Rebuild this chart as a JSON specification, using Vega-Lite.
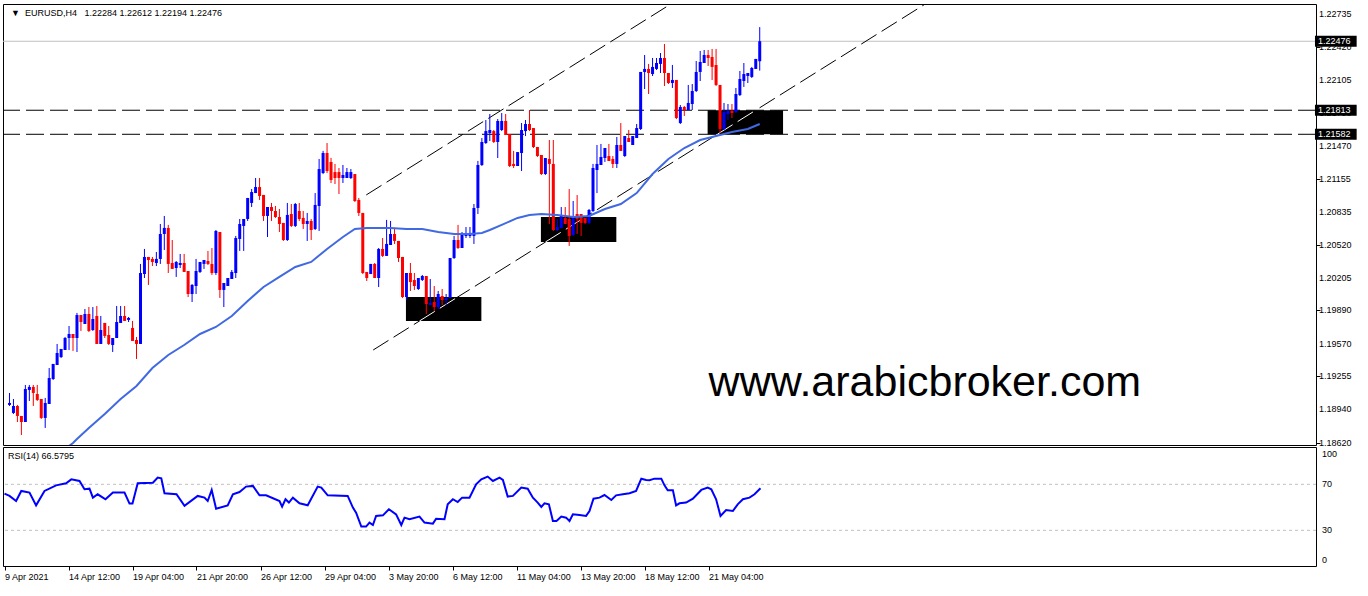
{
  "$schema": "https://vega.github.io/schema/vega-lite/v6.json",
  "background": "white",
  "padding": {"left": 0, "top": 3, "right": 0, "bottom": 0},
  "spacing": 2,
  "bounds": "flush",
  "config": {
    "view": {"stroke": "#000000", "strokeWidth": 1},
    "axis": {"labelFont": "Liberation Sans", "labelFontSize": 9, "labelColor": "#000000", "tickColor": "#000000", "domain": false, "grid": false, "labelOverlap": false},
    "text": {"font": "Liberation Sans"}
  },
  "datasets": {
    "bars": [
      {"i":0,"o":1.18981,"h":1.19096,"l":1.18971,"c":1.19000},
      {"i":1,"o":1.18904,"h":1.19038,"l":1.18894,"c":1.18971},
      {"i":2,"o":1.18971,"h":1.18981,"l":1.18817,"c":1.18875},
      {"i":3,"o":1.18875,"h":1.18875,"l":1.18692,"c":1.18817},
      {"i":4,"o":1.18817,"h":1.19173,"l":1.18817,"c":1.19134},
      {"i":5,"o":1.19125,"h":1.19173,"l":1.19019,"c":1.19154},
      {"i":6,"o":1.19154,"h":1.19173,"l":1.18971,"c":1.19096},
      {"i":7,"o":1.19086,"h":1.19173,"l":1.19019,"c":1.19029},
      {"i":8,"o":1.19038,"h":1.19038,"l":1.18846,"c":1.18856},
      {"i":9,"o":1.18856,"h":1.19048,"l":1.18760,"c":1.19000},
      {"i":10,"o":1.18990,"h":1.19336,"l":1.18990,"c":1.19240},
      {"i":11,"o":1.19230,"h":1.19375,"l":1.19221,"c":1.19375},
      {"i":12,"o":1.19365,"h":1.19567,"l":1.19365,"c":1.19480},
      {"i":13,"o":1.19441,"h":1.19519,"l":1.19432,"c":1.19519},
      {"i":14,"o":1.19509,"h":1.19634,"l":1.19509,"c":1.19624},
      {"i":15,"o":1.19624,"h":1.19740,"l":1.19509,"c":1.19663},
      {"i":16,"o":1.19663,"h":1.19663,"l":1.19500,"c":1.19624},
      {"i":17,"o":1.19624,"h":1.19865,"l":1.19490,"c":1.19845},
      {"i":18,"o":1.19845,"h":1.19845,"l":1.19692,"c":1.19778},
      {"i":19,"o":1.19759,"h":1.19903,"l":1.19759,"c":1.19855},
      {"i":20,"o":1.19855,"h":1.19922,"l":1.19682,"c":1.19692},
      {"i":21,"o":1.19701,"h":1.19922,"l":1.19692,"c":1.19807},
      {"i":22,"o":1.19836,"h":1.19932,"l":1.19567,"c":1.19567},
      {"i":23,"o":1.19567,"h":1.19836,"l":1.19567,"c":1.19701},
      {"i":24,"o":1.19769,"h":1.19769,"l":1.19624,"c":1.19644},
      {"i":25,"o":1.19653,"h":1.19740,"l":1.19557,"c":1.19567},
      {"i":26,"o":1.19557,"h":1.19624,"l":1.19490,"c":1.19624},
      {"i":27,"o":1.19624,"h":1.19932,"l":1.19624,"c":1.19778},
      {"i":28,"o":1.19769,"h":1.19932,"l":1.19769,"c":1.19836},
      {"i":29,"o":1.19836,"h":1.19932,"l":1.19788,"c":1.19788},
      {"i":30,"o":1.19798,"h":1.19826,"l":1.19778,"c":1.19817},
      {"i":31,"o":1.19721,"h":1.19788,"l":1.19596,"c":1.19596},
      {"i":32,"o":1.19605,"h":1.19634,"l":1.19423,"c":1.19567},
      {"i":33,"o":1.19567,"h":1.20336,"l":1.19567,"c":1.20249},
      {"i":34,"o":1.20239,"h":1.20480,"l":1.20201,"c":1.20403},
      {"i":35,"o":1.20403,"h":1.20403,"l":1.20134,"c":1.20374},
      {"i":36,"o":1.20384,"h":1.20403,"l":1.20316,"c":1.20355},
      {"i":37,"o":1.20345,"h":1.20451,"l":1.20316,"c":1.20384},
      {"i":38,"o":1.20384,"h":1.20720,"l":1.20336,"c":1.20624},
      {"i":39,"o":1.20624,"h":1.20797,"l":1.20470,"c":1.20682},
      {"i":40,"o":1.20682,"h":1.20711,"l":1.20249,"c":1.20336},
      {"i":41,"o":1.20345,"h":1.20566,"l":1.20288,"c":1.20288},
      {"i":42,"o":1.20297,"h":1.20364,"l":1.20211,"c":1.20355},
      {"i":43,"o":1.20326,"h":1.20432,"l":1.20297,"c":1.20345},
      {"i":44,"o":1.20345,"h":1.20432,"l":1.20259,"c":1.20259},
      {"i":45,"o":1.20268,"h":1.20268,"l":1.20018,"c":1.20047},
      {"i":46,"o":1.20047,"h":1.20143,"l":1.19970,"c":1.20134},
      {"i":47,"o":1.20124,"h":1.20384,"l":1.20047,"c":1.20268},
      {"i":48,"o":1.20259,"h":1.20355,"l":1.20249,"c":1.20355},
      {"i":49,"o":1.20336,"h":1.20374,"l":1.20288,"c":1.20374},
      {"i":50,"o":1.20364,"h":1.20461,"l":1.20326,"c":1.20336},
      {"i":51,"o":1.20336,"h":1.20489,"l":1.20230,"c":1.20249},
      {"i":52,"o":1.20249,"h":1.20662,"l":1.20230,"c":1.20653},
      {"i":53,"o":1.20643,"h":1.20643,"l":1.20009,"c":1.20086},
      {"i":54,"o":1.20086,"h":1.20153,"l":1.19922,"c":1.20153},
      {"i":55,"o":1.20124,"h":1.20201,"l":1.20124,"c":1.20201},
      {"i":56,"o":1.20191,"h":1.20278,"l":1.20191,"c":1.20259},
      {"i":57,"o":1.20249,"h":1.20605,"l":1.20201,"c":1.20585},
      {"i":58,"o":1.20576,"h":1.20768,"l":1.20461,"c":1.20720},
      {"i":59,"o":1.20701,"h":1.20768,"l":1.20461,"c":1.20768},
      {"i":60,"o":1.20768,"h":1.20970,"l":1.20749,"c":1.20970},
      {"i":61,"o":1.20922,"h":1.21056,"l":1.20883,"c":1.21027},
      {"i":62,"o":1.21017,"h":1.21162,"l":1.21017,"c":1.21075},
      {"i":63,"o":1.21075,"h":1.21162,"l":1.20951,"c":1.20989},
      {"i":64,"o":1.20999,"h":1.20999,"l":1.20749,"c":1.20797},
      {"i":65,"o":1.20797,"h":1.20883,"l":1.20595,"c":1.20883},
      {"i":66,"o":1.20883,"h":1.20922,"l":1.20749,"c":1.20845},
      {"i":67,"o":1.20845,"h":1.20893,"l":1.20778,"c":1.20787},
      {"i":68,"o":1.20787,"h":1.20864,"l":1.20643,"c":1.20720},
      {"i":69,"o":1.20730,"h":1.20730,"l":1.20557,"c":1.20566},
      {"i":70,"o":1.20566,"h":1.20922,"l":1.20557,"c":1.20807},
      {"i":71,"o":1.20816,"h":1.20912,"l":1.20691,"c":1.20701},
      {"i":72,"o":1.20701,"h":1.20922,"l":1.20691,"c":1.20912},
      {"i":73,"o":1.20845,"h":1.20922,"l":1.20749,"c":1.20768},
      {"i":74,"o":1.20778,"h":1.20845,"l":1.20672,"c":1.20720},
      {"i":75,"o":1.20720,"h":1.20826,"l":1.20557,"c":1.20749},
      {"i":76,"o":1.20749,"h":1.20768,"l":1.20566,"c":1.20662},
      {"i":77,"o":1.20672,"h":1.21017,"l":1.20662,"c":1.20903},
      {"i":78,"o":1.20893,"h":1.21345,"l":1.20653,"c":1.21248},
      {"i":79,"o":1.21210,"h":1.21422,"l":1.21200,"c":1.21402},
      {"i":80,"o":1.21402,"h":1.21498,"l":1.21210,"c":1.21229},
      {"i":81,"o":1.21316,"h":1.21355,"l":1.21114,"c":1.21143},
      {"i":82,"o":1.21219,"h":1.21297,"l":1.21104,"c":1.21162},
      {"i":83,"o":1.21219,"h":1.21258,"l":1.21008,"c":1.21162},
      {"i":84,"o":1.21162,"h":1.21287,"l":1.21114,"c":1.21191},
      {"i":85,"o":1.21162,"h":1.21258,"l":1.21162,"c":1.21219},
      {"i":86,"o":1.21162,"h":1.21248,"l":1.21152,"c":1.21219},
      {"i":87,"o":1.21200,"h":1.21200,"l":1.20932,"c":1.20941},
      {"i":88,"o":1.20951,"h":1.20970,"l":1.20797,"c":1.20826},
      {"i":89,"o":1.20826,"h":1.20826,"l":1.20239,"c":1.20249},
      {"i":90,"o":1.20259,"h":1.20259,"l":1.20172,"c":1.20201},
      {"i":91,"o":1.20239,"h":1.20336,"l":1.20239,"c":1.20336},
      {"i":92,"o":1.20336,"h":1.20345,"l":1.20201,"c":1.20201},
      {"i":93,"o":1.20201,"h":1.20489,"l":1.20114,"c":1.20480},
      {"i":94,"o":1.20480,"h":1.20585,"l":1.20403,"c":1.20413},
      {"i":95,"o":1.20413,"h":1.20759,"l":1.20413,"c":1.20528},
      {"i":96,"o":1.20518,"h":1.20749,"l":1.20518,"c":1.20624},
      {"i":97,"o":1.20624,"h":1.20672,"l":1.20528,"c":1.20557},
      {"i":98,"o":1.20557,"h":1.20557,"l":1.20355,"c":1.20393},
      {"i":99,"o":1.20403,"h":1.20403,"l":1.20009,"c":1.20018},
      {"i":100,"o":1.20018,"h":1.20249,"l":1.19989,"c":1.20249},
      {"i":101,"o":1.20249,"h":1.20345,"l":1.20076,"c":1.20162},
      {"i":102,"o":1.20182,"h":1.20249,"l":1.20086,"c":1.20124},
      {"i":103,"o":1.20095,"h":1.20201,"l":1.20086,"c":1.20201},
      {"i":104,"o":1.20182,"h":1.20230,"l":1.20172,"c":1.20220},
      {"i":105,"o":1.20220,"h":1.20220,"l":1.19855,"c":1.19951},
      {"i":106,"o":1.19942,"h":1.20191,"l":1.19942,"c":1.19961},
      {"i":107,"o":1.19970,"h":1.20124,"l":1.19884,"c":1.19922},
      {"i":108,"o":1.19922,"h":1.20076,"l":1.19903,"c":1.20047},
      {"i":109,"o":1.20028,"h":1.20095,"l":1.19942,"c":1.19989},
      {"i":110,"o":1.19989,"h":1.20047,"l":1.19942,"c":1.20009},
      {"i":111,"o":1.20009,"h":1.20393,"l":1.20009,"c":1.20393},
      {"i":112,"o":1.20393,"h":1.20605,"l":1.20384,"c":1.20566},
      {"i":113,"o":1.20566,"h":1.20711,"l":1.20480,"c":1.20489},
      {"i":114,"o":1.20489,"h":1.20643,"l":1.20489,"c":1.20624},
      {"i":115,"o":1.20605,"h":1.20691,"l":1.20585,"c":1.20624},
      {"i":116,"o":1.20605,"h":1.20691,"l":1.20585,"c":1.20634},
      {"i":117,"o":1.20605,"h":1.20912,"l":1.20528,"c":1.20874},
      {"i":118,"o":1.20874,"h":1.21326,"l":1.20816,"c":1.21287},
      {"i":119,"o":1.21287,"h":1.21546,"l":1.21277,"c":1.21508},
      {"i":120,"o":1.21498,"h":1.21719,"l":1.21489,"c":1.21613},
      {"i":121,"o":1.21594,"h":1.21777,"l":1.21517,"c":1.21623},
      {"i":122,"o":1.21613,"h":1.21623,"l":1.21498,"c":1.21508},
      {"i":123,"o":1.21508,"h":1.21729,"l":1.21354,"c":1.21710},
      {"i":124,"o":1.21623,"h":1.21786,"l":1.21613,"c":1.21710},
      {"i":125,"o":1.21710,"h":1.21777,"l":1.21575,"c":1.21575},
      {"i":126,"o":1.21585,"h":1.21585,"l":1.21267,"c":1.21277},
      {"i":127,"o":1.21297,"h":1.21422,"l":1.21258,"c":1.21277},
      {"i":128,"o":1.21277,"h":1.21411,"l":1.21277,"c":1.21411},
      {"i":129,"o":1.21402,"h":1.21690,"l":1.21229,"c":1.21623},
      {"i":130,"o":1.21613,"h":1.21719,"l":1.21565,"c":1.21681},
      {"i":131,"o":1.21681,"h":1.21815,"l":1.21613,"c":1.21623},
      {"i":132,"o":1.21642,"h":1.21642,"l":1.21450,"c":1.21460},
      {"i":133,"o":1.21460,"h":1.21460,"l":1.21364,"c":1.21373},
      {"i":134,"o":1.21383,"h":1.21383,"l":1.21191,"c":1.21200},
      {"i":135,"o":1.21200,"h":1.21354,"l":1.21191,"c":1.21354},
      {"i":136,"o":1.21345,"h":1.21527,"l":1.20720,"c":1.21297},
      {"i":137,"o":1.21297,"h":1.21527,"l":1.20653,"c":1.20662},
      {"i":138,"o":1.20662,"h":1.20768,"l":1.20653,"c":1.20691},
      {"i":139,"o":1.20682,"h":1.20883,"l":1.20682,"c":1.20797},
      {"i":140,"o":1.20778,"h":1.20883,"l":1.20720,"c":1.20720},
      {"i":141,"o":1.20768,"h":1.21056,"l":1.20509,"c":1.20605},
      {"i":142,"o":1.20614,"h":1.20941,"l":1.20605,"c":1.20778},
      {"i":143,"o":1.20816,"h":1.20998,"l":1.20624,"c":1.20768},
      {"i":144,"o":1.20816,"h":1.20816,"l":1.20605,"c":1.20730},
      {"i":145,"o":1.20778,"h":1.20778,"l":1.20720,"c":1.20730},
      {"i":146,"o":1.20730,"h":1.20864,"l":1.20720,"c":1.20855},
      {"i":147,"o":1.20845,"h":1.21297,"l":1.20836,"c":1.21258},
      {"i":148,"o":1.21239,"h":1.21479,"l":1.21017,"c":1.21297},
      {"i":149,"o":1.21287,"h":1.21489,"l":1.21287,"c":1.21364},
      {"i":150,"o":1.21354,"h":1.21450,"l":1.21316,"c":1.21450},
      {"i":151,"o":1.21373,"h":1.21489,"l":1.21325,"c":1.21325},
      {"i":152,"o":1.21345,"h":1.21373,"l":1.21258,"c":1.21297},
      {"i":153,"o":1.21297,"h":1.21556,"l":1.21258,"c":1.21479},
      {"i":154,"o":1.21479,"h":1.21690,"l":1.21422,"c":1.21422},
      {"i":155,"o":1.21373,"h":1.21565,"l":1.21364,"c":1.21565},
      {"i":156,"o":1.21546,"h":1.21623,"l":1.21508,"c":1.21508},
      {"i":157,"o":1.21479,"h":1.21565,"l":1.21479,"c":1.21565},
      {"i":158,"o":1.21546,"h":1.21681,"l":1.21546,"c":1.21642},
      {"i":159,"o":1.21633,"h":1.22181,"l":1.21623,"c":1.22181},
      {"i":160,"o":1.22181,"h":1.22344,"l":1.22017,"c":1.22210},
      {"i":161,"o":1.22210,"h":1.22258,"l":1.21969,"c":1.22171},
      {"i":162,"o":1.22161,"h":1.22315,"l":1.22142,"c":1.22229},
      {"i":163,"o":1.22210,"h":1.22315,"l":1.22200,"c":1.22267},
      {"i":164,"o":1.22258,"h":1.22363,"l":1.22171,"c":1.22315},
      {"i":165,"o":1.22315,"h":1.22450,"l":1.22046,"c":1.22171},
      {"i":166,"o":1.22171,"h":1.22171,"l":1.22065,"c":1.22075},
      {"i":167,"o":1.22075,"h":1.22248,"l":1.22027,"c":1.22104},
      {"i":168,"o":1.22104,"h":1.22104,"l":1.21728,"c":1.21738},
      {"i":169,"o":1.21690,"h":1.21863,"l":1.21681,"c":1.21844},
      {"i":170,"o":1.21844,"h":1.21854,"l":1.21758,"c":1.21815},
      {"i":171,"o":1.21815,"h":1.22056,"l":1.21815,"c":1.21883},
      {"i":172,"o":1.21873,"h":1.22065,"l":1.21815,"c":1.21998},
      {"i":173,"o":1.21998,"h":1.22286,"l":1.21988,"c":1.22181},
      {"i":174,"o":1.22181,"h":1.22383,"l":1.22094,"c":1.22277},
      {"i":175,"o":1.22267,"h":1.22392,"l":1.22267,"c":1.22344},
      {"i":176,"o":1.22344,"h":1.22392,"l":1.22238,"c":1.22315},
      {"i":177,"o":1.22325,"h":1.22402,"l":1.22104,"c":1.22229},
      {"i":178,"o":1.22248,"h":1.22402,"l":1.22046,"c":1.22056},
      {"i":179,"o":1.22056,"h":1.22056,"l":1.21594,"c":1.21633},
      {"i":180,"o":1.21633,"h":1.21883,"l":1.21623,"c":1.21796},
      {"i":181,"o":1.21777,"h":1.21873,"l":1.21719,"c":1.21806},
      {"i":182,"o":1.21806,"h":1.21873,"l":1.21738,"c":1.21786},
      {"i":183,"o":1.21796,"h":1.22027,"l":1.21786,"c":1.21969},
      {"i":184,"o":1.21959,"h":1.22190,"l":1.21950,"c":1.22113},
      {"i":185,"o":1.22094,"h":1.22267,"l":1.22037,"c":1.22161},
      {"i":186,"o":1.22142,"h":1.22171,"l":1.22075,"c":1.22171},
      {"i":187,"o":1.22133,"h":1.22229,"l":1.22123,"c":1.22219},
      {"i":188,"o":1.22210,"h":1.22306,"l":1.22210,"c":1.22306},
      {"i":189,"o":1.22284,"h":1.22612,"l":1.22194,"c":1.22476}
    ],
    "ma": [
      {"b":14,"p":1.18557},{"b":16,"p":1.18615},{"b":17,"p":1.18654},{"b":20,"p":1.18760},{"b":24,"p":1.18894},
      {"b":28,"p":1.19038},{"b":32,"p":1.19163},{"b":36,"p":1.19336},{"b":40,"p":1.19461},{"b":44,"p":1.19557},
      {"b":48,"p":1.19663},{"b":52,"p":1.19730},{"b":56,"p":1.19836},{"b":60,"p":1.19980},{"b":64,"p":1.20115},
      {"b":68,"p":1.20211},{"b":72,"p":1.20307},{"b":76,"p":1.20355},{"b":80,"p":1.20480},{"b":84,"p":1.20595},
      {"b":87,"p":1.20672},{"b":90,"p":1.20682},{"b":96,"p":1.20682},{"b":100,"p":1.20672},{"b":104,"p":1.20672},
      {"b":108,"p":1.20643},{"b":112,"p":1.20624},{"b":116,"p":1.20624},{"b":119,"p":1.20634},{"b":121,"p":1.20662},
      {"b":124,"p":1.20711},{"b":128,"p":1.20778},{"b":131,"p":1.20807},{"b":134,"p":1.20816},{"b":138,"p":1.20807},
      {"b":142,"p":1.20787},{"b":146,"p":1.20797},{"b":150,"p":1.20864},{"b":154,"p":1.20912},{"b":158,"p":1.21017},
      {"b":162,"p":1.21200},{"b":166,"p":1.21345},{"b":170,"p":1.21450},{"b":174,"p":1.21527},{"b":178,"p":1.21565},
      {"b":182,"p":1.21604},{"b":186,"p":1.21633},{"b":189,"p":1.21681}
    ],
    "rsi": [
      {"b":0,"v":61.9},{"b":1.25,"v":59.9},{"b":2.9,"v":55.5},{"b":4.2,"v":64.2},{"b":6.25,"v":62.8},{"b":7.9,"v":51.7},
      {"b":10,"v":64.2},{"b":12.9,"v":69.1},{"b":15.4,"v":70.9},{"b":16.7,"v":74.3},{"b":18.75,"v":72.9},{"b":20,"v":65.7},
      {"b":21.25,"v":66.2},{"b":22.1,"v":58.4},{"b":23.3,"v":61.3},{"b":25.25,"v":57},{"b":27.1,"v":62.8},{"b":30,"v":62.8},
      {"b":31.25,"v":53.2},{"b":32,"v":53.2},{"b":33.3,"v":70.9},{"b":37.1,"v":71.4},{"b":38.3,"v":75.8},{"b":39.2,"v":75.2},
      {"b":40,"v":62.2},{"b":43,"v":61.3},{"b":45,"v":51.2},{"b":48.3,"v":59.9},{"b":50,"v":58.4},{"b":50.8,"v":55.5},
      {"b":51.8,"v":65.1},{"b":52.9,"v":48.8},{"b":55.8,"v":51.7},{"b":57.1,"v":61.3},{"b":58.75,"v":63.3},{"b":60.4,"v":68},
      {"b":62.1,"v":68.6},{"b":63.75,"v":60.4},{"b":65.4,"v":60.4},{"b":68.75,"v":55.5},{"b":69.4,"v":50.6},{"b":70.25,"v":57},
      {"b":71.1,"v":54.1},{"b":72.1,"v":58.4},{"b":73.75,"v":53.5},{"b":75.8,"v":51.7},{"b":78.3,"v":68},{"b":79.2,"v":67.1},
      {"b":80.8,"v":60.4},{"b":85.8,"v":59.9},{"b":87.1,"v":49.7},{"b":87.9,"v":45.4},{"b":89.2,"v":33.2},{"b":90.4,"v":33.2},
      {"b":91.25,"v":36.7},{"b":92.1,"v":34.6},{"b":92.9,"v":42.5},{"b":94.6,"v":43},{"b":96.1,"v":48.3},{"b":97.9,"v":43.9},
      {"b":99.2,"v":34.6},{"b":100,"v":41},{"b":101.25,"v":39.6},{"b":103.75,"v":41.9},{"b":105,"v":36.7},{"b":107.1,"v":35.8},
      {"b":107.9,"v":40.1},{"b":110,"v":39.6},{"b":110.8,"v":52.6},{"b":112.1,"v":57},{"b":113.3,"v":54.6},{"b":114.4,"v":58.4},
      {"b":116.25,"v":58.4},{"b":117.9,"v":70},{"b":119.2,"v":74.3},{"b":120.8,"v":76.7},{"b":122.1,"v":72.9},{"b":123.75,"v":75.8},
      {"b":124.6,"v":73.8},{"b":125.8,"v":59.3},{"b":127.1,"v":59.9},{"b":129.2,"v":67.1},{"b":130.8,"v":66.2},{"b":132.1,"v":58.4},
      {"b":133.3,"v":54.1},{"b":134.2,"v":50.3},{"b":135,"v":53.5},{"b":136.1,"v":52.6},{"b":137.1,"v":38.1},{"b":138,"v":38.1},
      {"b":139.2,"v":41.9},{"b":140.4,"v":41},{"b":141.25,"v":38.1},{"b":142.1,"v":43.9},{"b":143.75,"v":43.3},{"b":145.4,"v":42.5},
      {"b":146.25,"v":46.8},{"b":147.25,"v":57.5},{"b":148.75,"v":58.4},{"b":150,"v":60.7},{"b":151.7,"v":56.4},{"b":152.9,"v":60.4},
      {"b":154.6,"v":61.3},{"b":156.25,"v":62.2},{"b":157.9,"v":64.2},{"b":159.2,"v":74.9},{"b":160.4,"v":73.8},{"b":161.25,"v":73.5},
      {"b":162.5,"v":74.9},{"b":164.2,"v":74.9},{"b":165,"v":69.1},{"b":165.8,"v":64.8},{"b":167.1,"v":64.8},{"b":167.9,"v":51.7},
      {"b":168.75,"v":53.5},{"b":170.4,"v":54.1},{"b":172.1,"v":57.5},{"b":174.2,"v":65.1},{"b":175.8,"v":67.1},{"b":176.7,"v":65.7},
      {"b":177.9,"v":57},{"b":179,"v":42.5},{"b":180.4,"v":47.7},{"b":182.1,"v":46.8},{"b":183.3,"v":52.6},{"b":184.6,"v":57},
      {"b":186.25,"v":58.4},{"b":187.5,"v":61.3},{"b":189,"v":66.58}
    ],
    "levels": [{"p":1.21813},{"p":1.21582}],
    "boxes": [
      {"b0":99.875,"b1":118.875,"p0":1.19788,"p1":1.20018},
      {"b0":133.875,"b1":152.875,"p0":1.20547,"p1":1.20787},
      {"b0":175.875,"b1":194.875,"p0":1.21582,"p1":1.21813}
    ],
    "trend": [
      {"id":"upper","b":89.875,"p":1.20999},{"id":"upper","b":170,"p":1.22915},
      {"id":"lower","b":91.625,"p":1.19509},{"id":"lower","b":234,"p":1.22913}
    ],
    "trendInBox": [
      {"id":"s1","b":103.29,"p":1.19788},{"id":"s1","b":112.9,"p":1.20018},
      {"id":"s2","b":135.03,"p":1.20547},{"id":"s2","b":145.07,"p":1.20787},
      {"id":"s3","b":178.32,"p":1.21582},{"id":"s3","b":187.98,"p":1.21813}
    ],
    "pricelabels": [
      {"p":1.22735,"t":"1.22735"},{"p":1.2242,"t":"1.22420"},{"p":1.22105,"t":"1.22105"},{"p":1.2179,"t":"1.21790"},
      {"p":1.2147,"t":"1.21470"},{"p":1.21155,"t":"1.21155"},{"p":1.20835,"t":"1.20835"},{"p":1.2052,"t":"1.20520"},
      {"p":1.20205,"t":"1.20205"},{"p":1.1989,"t":"1.19890"},{"p":1.1957,"t":"1.19570"},{"p":1.19255,"t":"1.19255"},
      {"p":1.1894,"t":"1.18940"},{"p":1.1862,"t":"1.18620"}
    ],
    "pricetags": [{"p":1.22476,"t":"1.22476"},{"p":1.21813,"t":"1.21813"},{"p":1.21582,"t":"1.21582"}]
  },
  "vconcat": [
    {
      "width": 1313,
      "height": 441,
      "layer": [
        {
          "data": {"values": [{"p": 1.22476}]},
          "mark": {"type": "rule", "color": "#C0C0C0", "strokeWidth": 1},
          "encoding": {
            "y": {"field": "p", "type": "quantitative",
              "scale": {"domain": [1.18596, 1.22834], "nice": false, "zero": false},
              "axis": {"orient": "right", "title": null,
                "values": [1.22735, 1.2242, 1.22105, 1.2179, 1.2147, 1.21155, 1.20835, 1.2052, 1.20205, 1.1989, 1.1957, 1.19255, 1.1894, 1.1862],
                "labels": false, "tickSize": 4}}
          }
        },
        {
          "data": {"name": "levels"},
          "mark": {"type": "rule", "color": "#000000", "strokeWidth": 1, "strokeDash": [18, 6]},
          "encoding": {"y": {"field": "p", "type": "quantitative"}}
        },
        {
          "data": {"name": "boxes"},
          "mark": {"type": "rect", "color": "#000000"},
          "encoding": {
            "x": {"field": "b0", "type": "quantitative", "scale": {"domain": [-0.375, 327.875], "nice": false, "zero": false}, "axis": null},
            "x2": {"field": "b1"},
            "y": {"field": "p0", "type": "quantitative"},
            "y2": {"field": "p1"}
          }
        },
        {
          "data": {"name": "trend"},
          "mark": {"type": "line", "color": "#000000", "strokeWidth": 1, "strokeDash": [18, 6], "clip": true},
          "encoding": {
            "x": {"field": "b", "type": "quantitative", "axis": null},
            "y": {"field": "p", "type": "quantitative"},
            "detail": {"field": "id"}
          }
        },
        {
          "data": {"name": "trendInBox"},
          "mark": {"type": "line", "color": "#FFFFFF", "strokeWidth": 1, "strokeDash": [18, 6], "clip": true},
          "encoding": {
            "x": {"field": "b", "type": "quantitative", "axis": null},
            "y": {"field": "p", "type": "quantitative"},
            "detail": {"field": "id"}
          }
        },
        {
          "data": {"name": "bars"},
          "mark": {"type": "rule", "strokeWidth": 1},
          "encoding": {
            "x": {"field": "i", "type": "quantitative", "axis": null},
            "y": {"field": "l", "type": "quantitative"},
            "y2": {"field": "h"},
            "color": {"condition": {"test": "datum.c >= datum.o", "value": "#0000FF"}, "value": "#FF0000"}
          }
        },
        {
          "data": {"name": "bars"},
          "mark": {"type": "bar", "width": 3},
          "encoding": {
            "x": {"field": "i", "type": "quantitative", "axis": null},
            "y": {"field": "o", "type": "quantitative"},
            "y2": {"field": "c"},
            "color": {"condition": {"test": "datum.c >= datum.o", "value": "#0000FF"}, "value": "#FF0000"}
          }
        },
        {
          "data": {"name": "ma"},
          "mark": {"type": "line", "color": "#4169E1", "strokeWidth": 2, "clip": true},
          "encoding": {
            "x": {"field": "b", "type": "quantitative", "axis": null},
            "y": {"field": "p", "type": "quantitative"}
          }
        },
        {
          "data": {"values": [{"b": 0.375, "p": 1.22748, "t": "▼\u00a0\u00a0EURUSD,H4\u00a0\u00a0\u00a01.22284\u00a01.22612\u00a01.22194\u00a01.22476"}]},
          "mark": {"type": "text", "align": "left", "baseline": "middle", "fontSize": 9, "color": "#000000"},
          "encoding": {
            "x": {"field": "b", "type": "quantitative", "axis": null},
            "y": {"field": "p", "type": "quantitative"},
            "text": {"field": "t"}
          }
        },
        {
          "data": {"values": [{"b": 176.125, "p": 1.19067, "t": "www.arabicbroker.com"}]},
          "mark": {"type": "text", "align": "left", "baseline": "alphabetic", "fontSize": 43, "color": "#000000"},
          "encoding": {
            "x": {"field": "b", "type": "quantitative", "axis": null},
            "y": {"field": "p", "type": "quantitative"},
            "text": {"field": "t"}
          }
        },
        {
          "data": {"name": "pricelabels"},
          "mark": {"type": "text", "align": "left", "baseline": "middle", "fontSize": 9, "color": "#000000"},
          "encoding": {
            "x": {"datum": 329.875, "axis": null},
            "y": {"field": "p", "type": "quantitative"},
            "text": {"field": "t"}
          }
        },
        {
          "data": {"name": "pricetags"},
          "mark": {"type": "rect", "color": "#000000", "height": 11},
          "encoding": {
            "x": {"datum": 328.875, "axis": null},
            "x2": {"datum": 339.375},
            "y": {"field": "p", "type": "quantitative"}
          }
        },
        {
          "data": {"name": "pricetags"},
          "mark": {"type": "text", "align": "left", "baseline": "middle", "fontSize": 9, "color": "#FFFFFF"},
          "encoding": {
            "x": {"datum": 329.625, "axis": null},
            "y": {"field": "p", "type": "quantitative"},
            "text": {"field": "t"}
          }
        }
      ]
    },
    {
      "width": 1313,
      "height": 119,
      "layer": [
        {
          "data": {"values": [{"v": 70}, {"v": 30}]},
          "mark": {"type": "rule", "color": "#C0C0C0", "strokeWidth": 1, "strokeDash": [3, 3]},
          "encoding": {
            "y": {"field": "v", "type": "quantitative",
              "scale": {"domain": [-1.04, 102.43], "nice": false, "zero": false},
              "axis": null}
          }
        },
        {
          "data": {"name": "rsi"},
          "mark": {"type": "line", "color": "#0000FF", "strokeWidth": 2},
          "encoding": {
            "x": {"field": "b", "type": "quantitative",
              "scale": {"domain": [-0.375, 327.875], "nice": false, "zero": false},
              "axis": {"orient": "bottom", "title": null, "values": [0, 16, 32, 48, 64, 80, 96, 112, 128, 144, 160, 176],
                "labelExpr": "['9 Apr 2021','14 Apr 12:00','19 Apr 04:00','21 Apr 20:00','26 Apr 12:00','29 Apr 04:00','3 May 20:00','6 May 12:00','11 May 04:00','13 May 20:00','18 May 12:00','21 May 04:00'][round(datum.value / 16)]",
                "labelAlign": "left", "tickSize": 4, "labelPadding": 2, "labelOverlap": false, "labelBound": false, "labelFlush": false}},
            "y": {"field": "v", "type": "quantitative", "axis": null}
          }
        },
        {
          "data": {"values": [{"b": 0.875, "v": 94.6, "t": "RSI(14) 66.5795"}]},
          "mark": {"type": "text", "align": "left", "baseline": "middle", "fontSize": 9, "color": "#000000"},
          "encoding": {
            "x": {"field": "b", "type": "quantitative"},
            "y": {"field": "v", "type": "quantitative", "axis": null},
            "text": {"field": "t"}
          }
        },
        {
          "data": {"values": [{"v": 70, "t": "70"}, {"v": 30, "t": "30"}]},
          "mark": {"type": "text", "align": "left", "baseline": "middle", "fontSize": 9, "color": "#000000"},
          "encoding": {
            "x": {"datum": 329.375},
            "y": {"field": "v", "type": "quantitative", "axis": null},
            "text": {"field": "t"}
          }
        },
        {
          "data": {"values": [{"v": 100, "t": "100"}]},
          "mark": {"type": "text", "align": "left", "baseline": "top", "fontSize": 9, "color": "#000000"},
          "encoding": {
            "x": {"datum": 329.375},
            "y": {"field": "v", "type": "quantitative", "axis": null},
            "text": {"field": "t"}
          }
        },
        {
          "data": {"values": [{"v": 0, "t": "0"}]},
          "mark": {"type": "text", "align": "left", "baseline": "bottom", "fontSize": 9, "color": "#000000"},
          "encoding": {
            "x": {"datum": 329.375},
            "y": {"field": "v", "type": "quantitative", "axis": null},
            "text": {"field": "t"}
          }
        }
      ]
    }
  ]
}
